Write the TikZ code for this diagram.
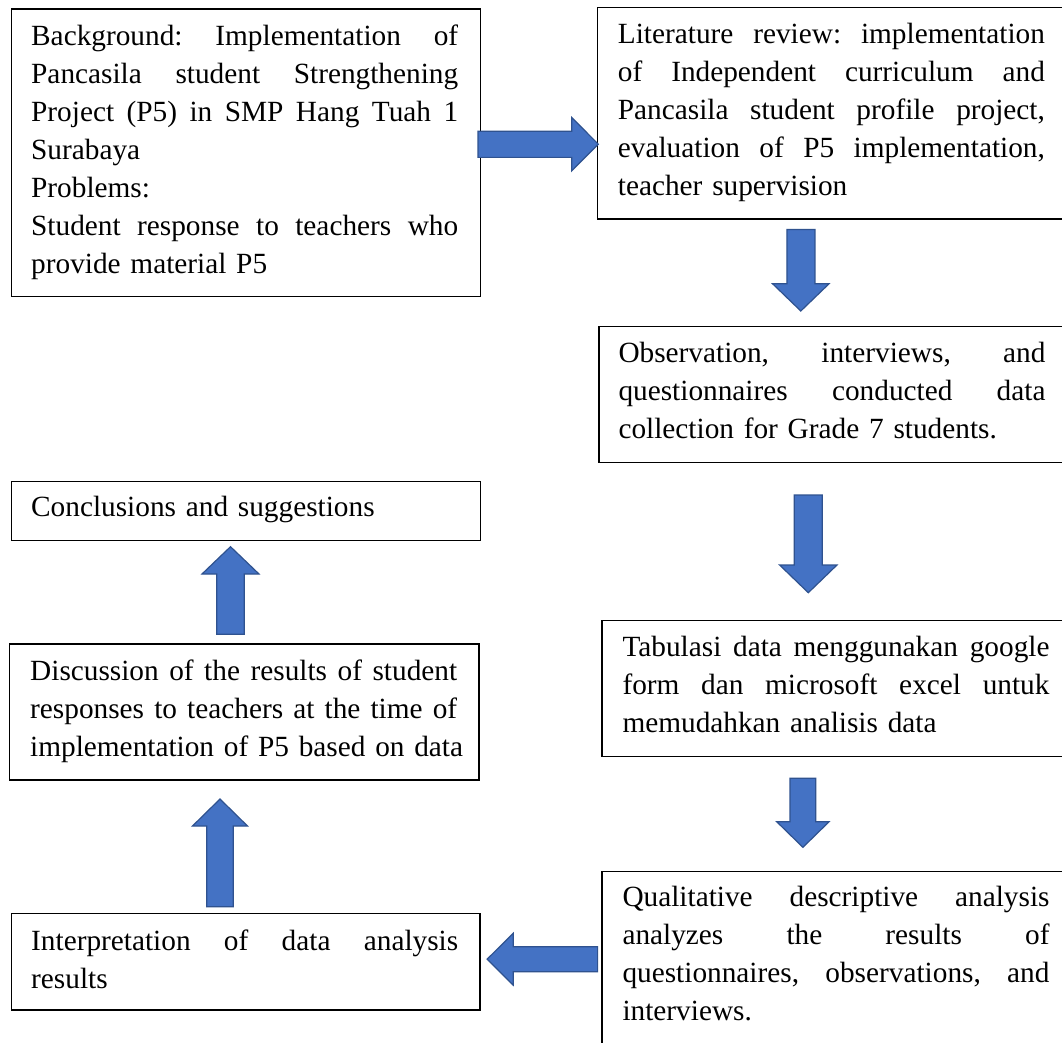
\documentclass[tikz,border=0pt]{standalone}
\usepackage{fontspec}
\setmainfont{Liberation Serif}
\definecolor{arrowblue}{HTML}{4472C4}
\definecolor{arrowedge}{HTML}{2F528F}
\tikzset{
  box/.style={draw=black, line width=1.3pt, anchor=north west, inner sep=0pt},
  txt/.style={anchor=north west, inner sep=0pt, text width=440pt, align=left,
    font=\fontsize{29.3pt}{37.9pt}\selectfont},
  blockarrow/.style={fill=arrowblue, draw=arrowedge, line width=1.2pt, line join=miter},
}
% a justified line: words separated by \hfill
\newcommand\jl[1]{\leavevmode\hbox to 427pt{#1}}
\begin{document}
\begin{tikzpicture}[x=1pt,y=-1pt]
\useasboundingbox (0,0) rectangle (1062,1043);
\fill[white] (0,0) rectangle (1062,1043);
\clip (0,0) rectangle (1062,1043);

% boxes
\node[box, minimum width=469.3pt, minimum height=287.7pt] (b1) at (10.7,8.3) {};
\node[box, minimum width=473pt, minimum height=211.6pt] (b2) at (597,6.7) {};
\node[box, minimum width=472pt, minimum height=135.7pt] (b3) at (598.3,326) {};
\node[box, minimum width=473pt, minimum height=135.7pt] (b4) at (601.3,620) {};
\node[box, minimum width=473pt, minimum height=250pt] (b5) at (601.3,870.7) {};
\node[box, minimum width=469.3pt, minimum height=59.3pt] (b6) at (10.7,480.7) {};
\node[box, minimum width=469.3pt, minimum height=136pt] (b7) at (9,643.3) {};
\node[box, minimum width=468.6pt, minimum height=96.6pt] (b8) at (10.7,912.7) {};

% texts
\node[txt] (t1) at (31,19.2) {\jl{\strut Background:\hfill Implementation\hfill of}\\
\jl{Pancasila\hfill student\hfill Strengthening}\\
\jl{Project\hfill (P5)\hfill in\hfill SMP\hfill Hang\hfill Tuah\hfill 1}\\
\mbox{Surabaya}\\
\mbox{Problems:}\\
\jl{Student\hfill response\hfill to\hfill teachers\hfill who}\\
\mbox{provide material P5\strut}};

\node[txt] (t2) at (617.7,16.8) {\jl{\strut Literature\hfill review:\hfill implementation}\\
\jl{of\hfill Independent\hfill curriculum\hfill and}\\
\jl{Pancasila\hfill student\hfill profile\hfill project,}\\
\jl{evaluation\hfill of\hfill P5\hfill implementation,}\\
\mbox{teacher supervision\strut}};

\node[txt] (t3) at (618.3,336.2) {\jl{\strut Observation,\hfill interviews,\hfill and}\\
\jl{questionnaires\hfill conducted\hfill data}\\
\mbox{collection for Grade 7 students.\strut}};

\node[txt] (t4) at (622.3,630.2) {\jl{\strut Tabulasi\hfill data\hfill menggunakan\hfill google}\\
\jl{form\hfill dan\hfill microsoft\hfill excel\hfill untuk}\\
\mbox{memudahkan analisis data\strut}};

\node[txt] (t5) at (622.3,880.2) {\jl{\strut Qualitative\hfill descriptive\hfill analysis}\\
\jl{analyzes\hfill the\hfill results\hfill of}\\
\jl{questionnaires,\hfill observations,\hfill and}\\
\mbox{interviews.\strut}};

\node[txt] (t6) at (31,490.2) {\mbox{\strut Conclusions and suggestions}};

\node[txt] (t7) at (30,653.5) {\jl{\strut Discussion\hfill of\hfill the\hfill results\hfill of\hfill student}\\
\jl{responses\hfill to\hfill teachers\hfill at\hfill the\hfill time\hfill of}\\
\mbox{implementation of P5 based on data\strut}};

\node[txt] (t8) at (31,923.5) {\jl{\strut Interpretation\hfill of\hfill data\hfill analysis}\\
\mbox{results\strut}};

% block arrows
\path[blockarrow] (478,131.2) -- (571.7,131.2) -- (571.7,117.5) -- (598.3,144.2)
  -- (571.7,170.9) -- (571.7,157.4) -- (478,157.4) -- cycle;
\path[blockarrow] (786.9,229.5) -- (814.9,229.5) -- (814.9,283.7) -- (829.1,283.7)
  -- (800.8,311) -- (772.5,283.7) -- (786.9,283.7) -- cycle;
\path[blockarrow] (794.3,495) -- (822.3,495) -- (822.3,565) -- (837,565)
  -- (808.3,592.7) -- (779.6,565) -- (794.3,565) -- cycle;
\path[blockarrow] (790,778.3) -- (815.7,778.3) -- (815.7,821.7) -- (829.1,821.7)
  -- (802.9,847.3) -- (776.7,821.7) -- (790,821.7) -- cycle;
\path[blockarrow] (487.1,959.2) -- (513.2,933.3) -- (513.2,946.7) -- (597.6,946.7)
  -- (597.6,971.7) -- (513.2,971.7) -- (513.2,985.1) -- cycle;
\path[blockarrow] (206.7,906.7) -- (233.3,906.7) -- (233.3,826) -- (247.5,826)
  -- (220,799) -- (192.5,826) -- (206.7,826) -- cycle;
\path[blockarrow] (216.7,634.3) -- (244.3,634.3) -- (244.3,574) -- (259,574)
  -- (230.5,546.7) -- (202,574) -- (216.7,574) -- cycle;
\end{tikzpicture}
\end{document}
